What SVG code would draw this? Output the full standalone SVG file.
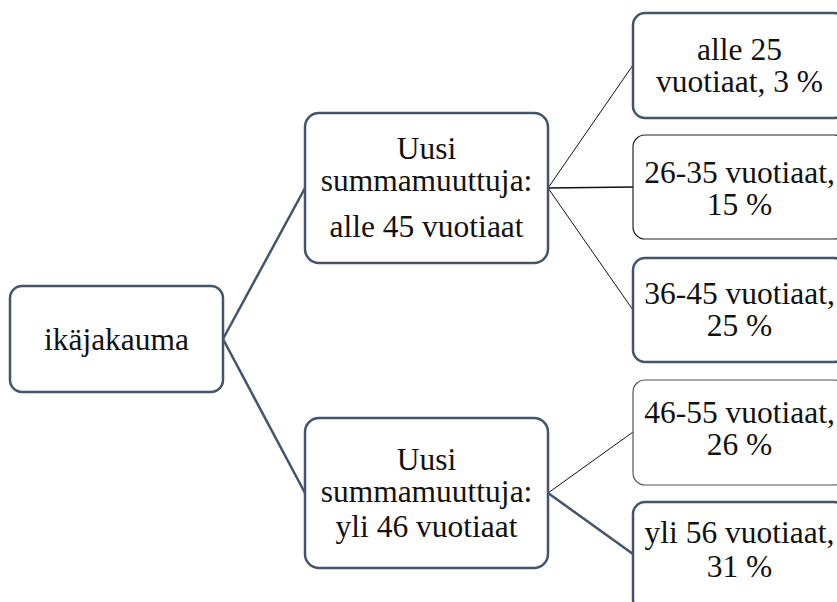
<svg xmlns="http://www.w3.org/2000/svg" width="837" height="602" viewBox="0 0 837 602">
<style>
.box{fill:#fff;stroke:#44546A;stroke-width:2.5}
.thin{fill:#fff;stroke:#222;stroke-width:1.2}
.c{fill:none;stroke:#44546A;stroke-width:2.5}
.cl{fill:none;stroke:#111;stroke-width:1}
</style>
<rect width="837" height="602" fill="#fff"/>
<g id="connectors">
<line class="c" x1="223" y1="339" x2="305" y2="188"/>
<line class="c" x1="223" y1="339" x2="305" y2="493"/>
<line class="cl" x1="548" y1="188" x2="633" y2="65"/>
<line class="cl" x1="548" y1="188" x2="633" y2="187" style="stroke-width:1.6"/>
<line class="cl" x1="548" y1="188" x2="633" y2="310"/>
<line class="cl" x1="548" y1="493" x2="633" y2="432"/>
<line class="c" x1="548" y1="493" x2="633" y2="554"/>
</g>
<g font-family="Liberation Serif" font-size="31.5" fill="#111" text-anchor="middle">
<g id="root">
<rect class="box" x="10" y="286" width="213" height="106" rx="12"/>
<text x="116.5" y="350" font-family="Liberation Serif">ikäjakauma</text>
</g>
<g id="mid1">
<rect class="box" x="305" y="113" width="243" height="150" rx="14"/>
<text x="426.5" y="159" font-family="Liberation Serif">Uusi</text>
<text x="426.5" y="191" font-family="Liberation Serif">summamuuttuja:</text>
<text x="426.5" y="237" font-family="Liberation Serif">alle 45 vuotiaat</text>
</g>
<g id="mid2">
<rect class="box" x="305" y="418" width="243" height="150" rx="14"/>
<text x="426.5" y="470" font-family="Liberation Serif">Uusi</text>
<text x="426.5" y="502" font-family="Liberation Serif">summamuuttuja:</text>
<text x="426.5" y="537" font-family="Liberation Serif">yli 46 vuotiaat</text>
</g>
<g id="leaf1">
<rect class="box" x="633" y="13" width="213" height="105" rx="12"/>
<text x="739.5" y="60" font-family="Liberation Serif">alle 25</text>
<text x="739.5" y="92" font-family="Liberation Serif">vuotiaat, 3 %</text>
</g>
<g id="leaf2">
<rect class="thin" x="633" y="135" width="213" height="104" rx="12"/>
<text x="739.5" y="183" font-family="Liberation Serif">26-35 vuotiaat,</text>
<text x="739.5" y="215" font-family="Liberation Serif">15 %</text>
</g>
<g id="leaf3">
<rect class="box" x="633" y="258" width="213" height="104" rx="12"/>
<text x="739.5" y="304" font-family="Liberation Serif">36-45 vuotiaat,</text>
<text x="739.5" y="336" font-family="Liberation Serif">25 %</text>
</g>
<g id="leaf4">
<rect class="thin" x="633" y="380" width="213" height="105" rx="12" style="stroke:#555"/>
<text x="739.5" y="423" font-family="Liberation Serif">46-55 vuotiaat,</text>
<text x="739.5" y="455" font-family="Liberation Serif">26 %</text>
</g>
<g id="leaf5">
<rect class="box" x="633" y="502" width="213" height="110" rx="12"/>
<text x="739.5" y="543" font-family="Liberation Serif">yli 56 vuotiaat,</text>
<text x="739.5" y="577" font-family="Liberation Serif">31 %</text>
</g>
</g>
</svg>
